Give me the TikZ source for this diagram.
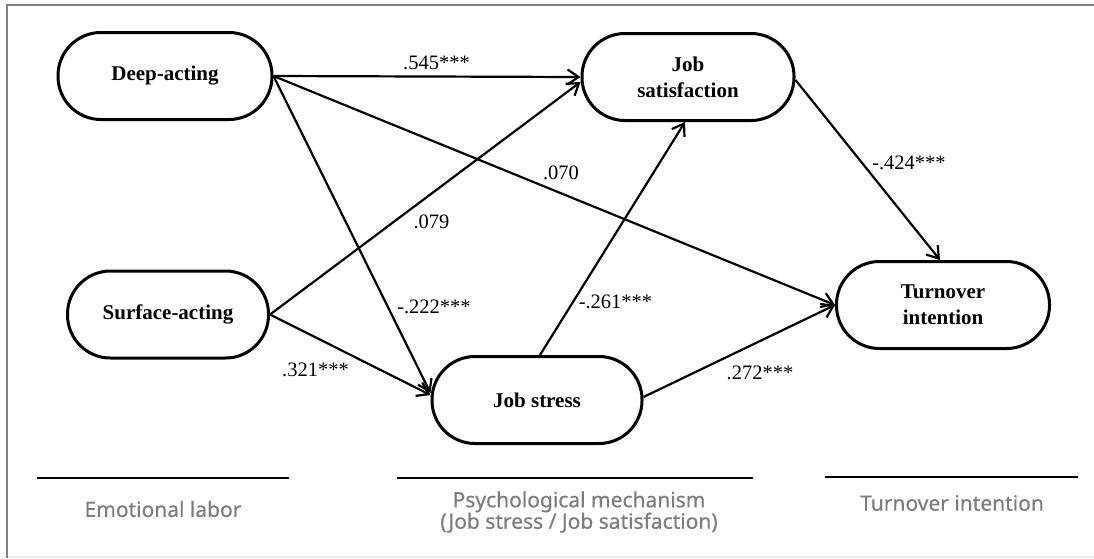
\documentclass[tikz,border=0pt]{standalone}
\usepackage{fontspec}
\setmainfont{Liberation Serif}
\newfontfamily\labfont[FakeBold=0.5]{Noto Sans}
\usetikzlibrary{arrows.meta}
\definecolor{framegray}{RGB}{128,128,128}
\definecolor{labgray}{RGB}{125,125,125}
\definecolor{faintgray}{RGB}{236,236,236}
\begin{document}
\begin{tikzpicture}[x=1pt,y=-1pt,
  capsule/.style={draw, line width=3pt, rectangle, rounded corners=43pt,
    minimum width=#1, minimum height=87pt, inner sep=0pt, align=center,
    font=\fontsize{21}{26}\selectfont\bfseries},
  link/.style={line width=2.2pt, -{Straight Barb[length=11pt,width=15pt]}},
  coef/.style={font=\fontsize{20.5}{24}\selectfont, inner sep=0pt},
  grp/.style={font=\labfont\fontsize{21}{21.5}\selectfont, text=labgray, align=center, inner sep=0pt},
  rule/.style={line width=2.4pt}]
\useasboundingbox[fill=white] (0,0) rectangle (1094,558);
% frame
\draw[framegray, line width=2pt] (7,558) -- (7,5) -- (1094,5);
\draw[faintgray, line width=1.5pt] (8,557) -- (1094,557);
% nodes
\node[capsule=214pt] (deep) at (165,76) {Deep-acting};
\node[capsule=212pt] (sat) at (688,77) {Job\\satisfaction};
\node[capsule=201pt] (surf) at (168,314.5) {Surface-acting};
\node[capsule=210pt] (stress) at (537,400) {Job stress};
\node[capsule=213pt] (turn) at (943,305) {Turnover\\intention};
% connectors
\draw[link] (deep.east) -- (sat.west);
\draw[link] (deep.east) -- (turn.west);
\draw[link] (deep.east) -- ([yshift=7pt]stress.west);
\draw[link] (surf.east) -- ([yshift=-5pt]sat.west);
\draw[link] (surf.east) -- ([yshift=5pt]stress.west);
\draw[link] ([xshift=3pt]stress.north) -- ([xshift=-3pt]sat.south);
\draw[link] ([yshift=3pt]stress.east) -- (turn.west);
\draw[link] ([yshift=-3pt]sat.east) -- ([xshift=-3pt]turn.north);
% coefficients
\node[coef] (c1) at (436.5,63) {.545***};
\node[coef] (c2) at (431.5,222) {.079};
\node[coef] (c3) at (561,173) {.070};
\node[coef] (c4) at (909,163) {-.424***};
\node[coef] (c5) at (434,307) {-.222***};
\node[coef] (c6) at (315.5,370) {.321***};
\node[coef] (c7) at (615.5,302) {-.261***};
\node[coef] (c8) at (760,373) {.272***};
% group rules and labels
\draw[rule] (37,478) -- (289,478);
\draw[rule] (397,478) -- (753,478);
\draw[rule] (825,477) -- (1078,477);
\node[grp] (g1) at (163,509) {Emotional labor};
\node[grp] (g2) at (579,512) {Psychological mechanism\\(Job stress / Job satisfaction)};
\node[grp] (g3) at (952,503) {Turnover intention};
\end{tikzpicture}
\end{document}
